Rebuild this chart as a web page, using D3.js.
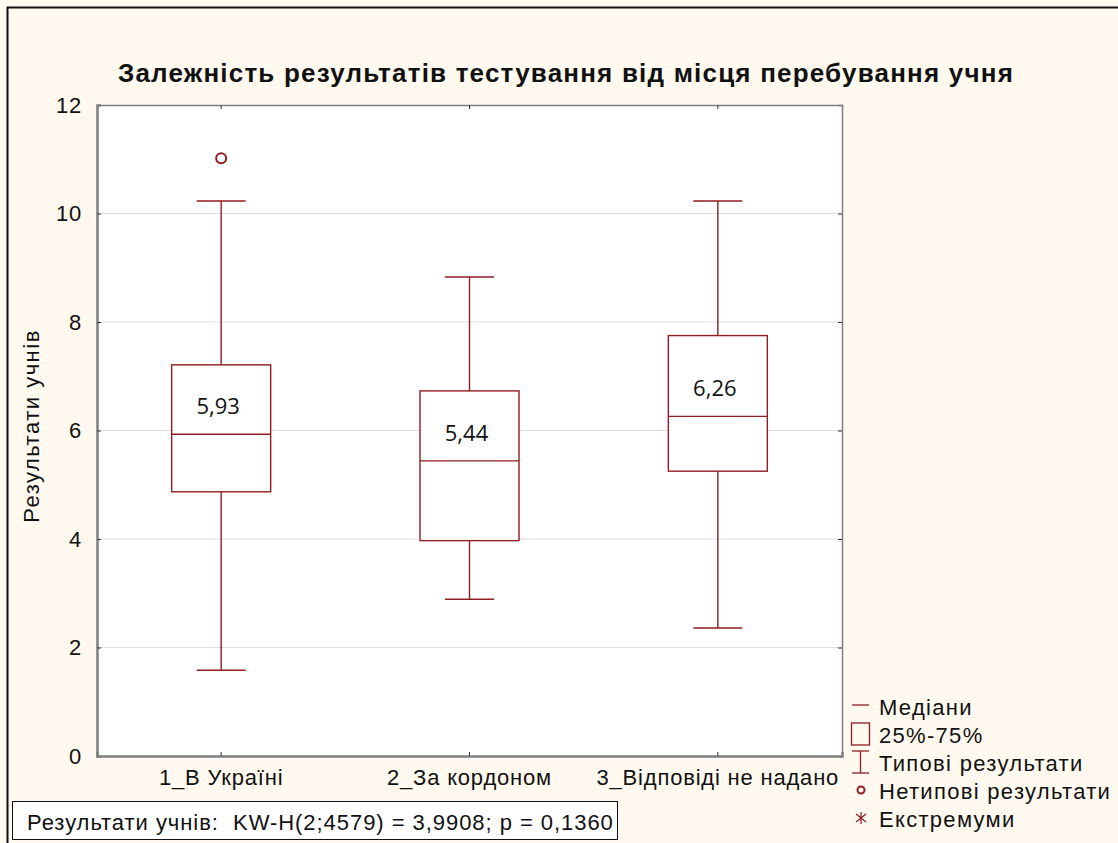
<!DOCTYPE html>
<html><head><meta charset="utf-8">
<script src="https://cdn.jsdelivr.net/npm/d3@7"></script>
<style>
html,body{margin:0;padding:0;background:#fff9ef;}
svg{display:block;}
</style></head>
<body>
<script>
const categories = ["1_В Україні", "2_За кордоном", "3_Відповіді не надано"];
const medians = [5.93, 5.44, 6.26];
const q1 = [4.87, 3.97, 5.25];
const q3 = [7.21, 6.73, 7.75];
const whiskerLow = [1.58, 2.89, 2.36];
const whiskerHigh = [10.23, 8.83, 10.23];
const outliers = [[11.02], [], []];
const medianLabels = ["5,93", "5,44", "6,26"];
const yTicks = [0, 2, 4, 6, 8, 10, 12];
const legendItems = ["Медіани", "25%-75%", "Типові результати", "Нетипові результати", "Екстремуми"];
const titleText = "Залежність результатів тестування від місця перебування учня";
const yLabel = "Результати учнів";
const statText = "Результати учнів:  KW-H(2;4579) = 3,9908; p = 0,1360";

const W = 1118, H = 843;
const red = "#8f1d21";
const sans = "'Liberation Sans', Arial, sans-serif";
const plot = {l: 97, t: 105, r: 842, b: 756};

const svg = d3.select("body").append("svg").attr("width", W).attr("height", H);
svg.append("rect").attr("x", 0).attr("y", 0).attr("width", W).attr("height", H).attr("fill", "#fff9ef");
// outer frame
svg.append("rect").attr("x", 7.5).attr("y", 7.5).attr("width", W + 10).attr("height", H + 10)
  .attr("fill", "none").attr("stroke", "#111").attr("stroke-width", 2);

const x = d3.scaleBand().domain(categories).range([plot.l, plot.r]);
const y = d3.scaleLinear().domain([0, 12]).range([plot.b, plot.t]);

svg.append("rect").attr("x", plot.l).attr("y", plot.t).attr("width", plot.r - plot.l).attr("height", plot.b - plot.t)
  .attr("fill", "#fff");

// grid
svg.append("g").selectAll("line").data(yTicks.filter(d => d > 0 && d < 12)).join("line")
  .attr("x1", plot.l).attr("x2", plot.r).attr("y1", d => y(d)).attr("y2", d => y(d))
  .attr("stroke", "#dcdcdc").attr("stroke-width", 1);

// axes
const yAxis = svg.append("g").attr("transform", `translate(${plot.l},0)`)
  .call(d3.axisLeft(y).tickValues(yTicks).tickSize(-4).tickPadding(15).tickFormat(d3.format("d")));
const yAxisR = svg.append("g").attr("transform", `translate(${plot.r},0)`)
  .call(d3.axisRight(y).tickValues(yTicks).tickSize(-4).tickFormat(""));
const xAxis = svg.append("g").attr("transform", `translate(0,${plot.b})`)
  .call(d3.axisBottom(x).tickSize(-4).tickPadding(13));
const xAxisT = svg.append("g").attr("transform", `translate(0,${plot.t})`)
  .call(d3.axisTop(x).tickSize(-4).tickFormat(""));
[yAxis, yAxisR, xAxis, xAxisT].forEach(g => {
  g.select(".domain").attr("stroke", "#808080").attr("stroke-width", 1.5);
  g.selectAll(".tick line").attr("stroke", "#333");
  g.selectAll("text").attr("font-family", sans).attr("font-size", 22).attr("fill", "#111")
    .attr("letter-spacing", 0.8);
});
yAxis.select(".domain").attr("stroke-width", 2.5);
xAxis.select(".domain").attr("stroke-width", 2.5);

// boxes
const bw = 99, cw = 49;
const g = svg.append("g").attr("stroke", red).attr("fill", "none").attr("stroke-width", 1.4);
categories.forEach((c, i) => {
  const cx = x(c) + x.bandwidth() / 2;
  g.append("line").attr("x1", cx).attr("x2", cx).attr("y1", y(whiskerHigh[i])).attr("y2", y(q3[i]));
  g.append("line").attr("x1", cx).attr("x2", cx).attr("y1", y(q1[i])).attr("y2", y(whiskerLow[i]));
  g.append("line").attr("x1", cx - cw / 2).attr("x2", cx + cw / 2).attr("y1", y(whiskerHigh[i])).attr("y2", y(whiskerHigh[i]));
  g.append("line").attr("x1", cx - cw / 2).attr("x2", cx + cw / 2).attr("y1", y(whiskerLow[i])).attr("y2", y(whiskerLow[i]));
  g.append("rect").attr("x", cx - bw / 2).attr("y", y(q3[i])).attr("width", bw).attr("height", y(q1[i]) - y(q3[i])).attr("fill", "#fff");
  g.append("line").attr("x1", cx - bw / 2).attr("x2", cx + bw / 2).attr("y1", y(medians[i])).attr("y2", y(medians[i]));
  outliers[i].forEach(v => {
    g.append("circle").attr("cx", cx).attr("cy", y(v)).attr("r", 5).attr("stroke-width", 2);
  });
  svg.append("text").attr("x", cx - 3).attr("y", y(medians[i]) - 20).attr("text-anchor", "middle")
    .attr("font-family", "'Open Sans', 'Noto Sans', sans-serif").attr("font-size", 22).attr("fill", "#111")
    .text(medianLabels[i]);
});

// title
svg.append("text").attr("x", 566).attr("y", 82).attr("text-anchor", "middle")
  .attr("font-family", sans).attr("font-weight", "bold").attr("font-size", 26).attr("fill", "#111")
  .attr("letter-spacing", 1.2)
  .text(titleText);

// y label
svg.append("text").attr("transform", `translate(39,426) rotate(-90)`)
  .attr("text-anchor", "middle").attr("font-family", sans).attr("font-size", 22).attr("fill", "#111")
  .attr("letter-spacing", 1.5)
  .text(yLabel);

// legend
const lg = svg.append("g");
const lx = 860, ly0 = 715, ld = 28;
legendItems.forEach((t, i) => {
  lg.append("text").attr("x", 879).attr("y", ly0 + i * ld).attr("font-family", sans).attr("font-size", 22)
    .attr("letter-spacing", 1.3).attr("fill", "#111").text(t);
});
const ls = lg.append("g").attr("stroke", red).attr("fill", "none").attr("stroke-width", 1.3);
ls.append("line").attr("x1", lx - 8).attr("x2", lx + 9).attr("y1", 705).attr("y2", 705);
ls.append("rect").attr("x", lx - 8.5).attr("y", 723).attr("width", 18).attr("height", 22);
ls.append("line").attr("x1", lx - 8).attr("x2", lx + 9).attr("y1", 751).attr("y2", 751);
ls.append("line").attr("x1", lx - 8).attr("x2", lx + 9).attr("y1", 773).attr("y2", 773);
ls.append("line").attr("x1", lx + 0.5).attr("x2", lx + 0.5).attr("y1", 751).attr("y2", 773);
ls.append("circle").attr("cx", lx + 1).attr("cy", 790).attr("r", 3.5).attr("stroke-width", 2);
const ax = lx + 1, ay = 818;
ls.append("path").attr("d", `M${ax},${ay - 6}V${ay + 6}M${ax - 5},${ay - 4}L${ax + 5},${ay + 4}M${ax - 5},${ay + 4}L${ax + 5},${ay - 4}`)
  .attr("stroke-width", 1.2);

// stat box
svg.append("rect").attr("x", 12.5).attr("y", 801.5).attr("width", 605).attr("height", 38)
  .attr("fill", "#fff").attr("stroke", "#111").attr("stroke-width", 1);
svg.append("text").attr("x", 27).attr("y", 830).attr("font-family", sans).attr("font-size", 22)
  .attr("letter-spacing", 0.95).style("white-space", "pre").attr("fill", "#111").text(statText);
</script>
</body></html>
